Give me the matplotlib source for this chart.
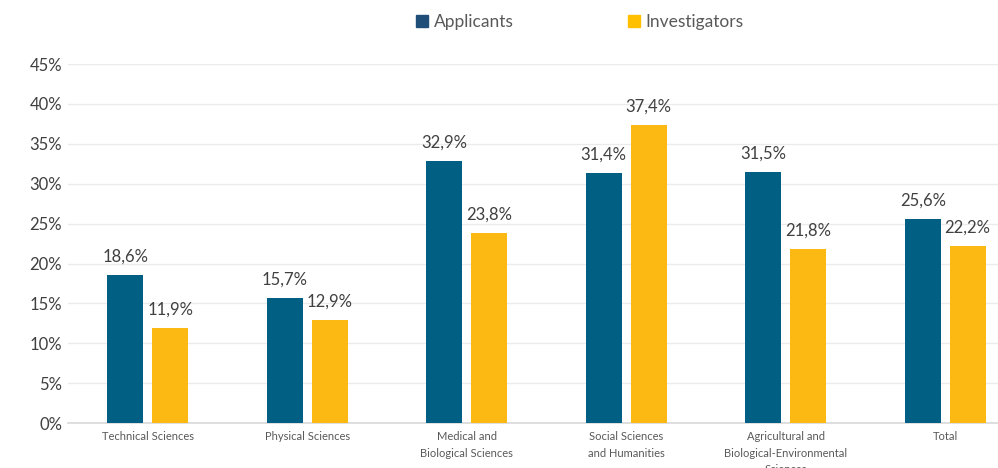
import numpy as np
import matplotlib.pyplot as plt
from matplotlib.patches import Patch

categories = ['Technical Sciences', 'Physical Sciences', 'Medical and\nBiological Sciences',
              'Social Sciences\nand Humanities',
              'Agricultural and\nBiological-Environmental\nSciences', 'Total']
applicants = [18.6, 15.7, 32.9, 31.4, 31.5, 25.6]
investigators = [11.9, 12.9, 23.8, 37.4, 21.8, 22.2]

c_app = '#005F83'
c_inv = '#FDB913'

plt.rcParams['font.family'] = ['Lato', 'DejaVu Sans']

fig = plt.figure(figsize=(9.98, 4.68), dpi=100)
# axes run past the right edge, the original is cropped there
ax = fig.add_axes([0.068, 0.096, 0.959, 0.767])

x = np.arange(len(categories))
w = 0.226
off = 0.141
b1 = ax.bar(x - off, applicants, w, color=c_app, zorder=3)
b2 = ax.bar(x + off, investigators, w, color=c_inv, zorder=3)

for bars, vals in ((b1, applicants), (b2, investigators)):
    for b, v in zip(bars, vals):
        ax.text(b.get_x() + b.get_width() / 2, v + 1.3, ('%.1f%%' % v).replace('.', ','),
                ha='center', va='bottom', fontsize=12, color='#404040')

ax.set_xlim(-0.5, 5.5)
ax.set_ylim(0, 45)
ax.set_yticks(np.arange(0, 46, 5))
ax.set_yticklabels(['%d%%' % t for t in range(0, 46, 5)], fontsize=12, color='#404040')
ax.set_xticks(x)
ax.set_xticklabels(categories, fontsize=8, color='#595959', linespacing=1.6, va='top')
ax.tick_params(axis='both', length=0)
ax.tick_params(axis='x', pad=6)
ax.tick_params(axis='y', pad=4)
ax.grid(axis='y', color='#EBEBEB', linewidth=1, zorder=0)
for s in ['top', 'right', 'left']:
    ax.spines[s].set_visible(False)
ax.spines['bottom'].set_color('#D9D9D9')
ax.spines['bottom'].set_linewidth(1.2)

handles = [Patch(color='#1F4E79', label='Applicants'), Patch(color='#FFC000', label='Investigators')]
fig.legend(handles=handles, loc='center', bbox_to_anchor=(0.581, 0.952), ncol=2, frameon=False,
           fontsize=12.5, handlelength=0.7, handleheight=0.7, handletextpad=0.3, columnspacing=6.6,
           labelcolor='#595959')

fig.savefig('out.png', dpi=100)
